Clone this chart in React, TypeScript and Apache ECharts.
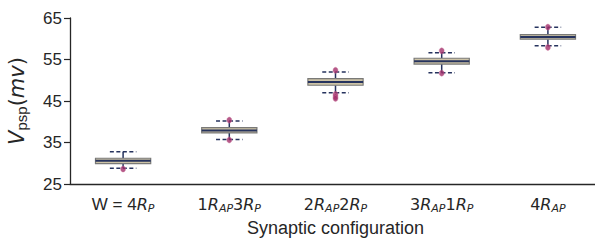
import React, { useEffect, useRef } from "react";
import * as echarts from "echarts";

const categories = [
  "{n|W = 4}{r|R}{s|P}",
  "{d|1}{r|R}{s|AP}{d|3}{r|R}{s|P}",
  "{d|2}{r|R}{s|AP}{d|2}{r|R}{s|P}",
  "{d|3}{r|R}{s|AP}{d|1}{r|R}{s|P}",
  "{d|4}{r|R}{s|AP}",
];
const lowers = [28.8, 35.7, 47.0, 51.8, 58.3];
const q1s = [29.9, 37.3, 48.8, 53.9, 59.9];
const medians = [30.6, 37.9, 49.6, 54.6, 60.4];
const q3s = [31.2, 38.6, 50.4, 55.3, 61.0];
const uppers = [32.8, 40.2, 52.0, 56.6, 62.8];
const pointCats = [0, 1, 1, 2, 2, 2, 2, 3, 3, 4, 4];
const pointVals = [28.6, 40.4, 35.6, 52.4, 46.6, 46.0, 45.6, 57.1, 51.7, 62.8, 57.9];
const yTicks = [25, 35, 45, 55, 65];

const NAVY = "#26335e";
const BOX_FILL = "#cdc3a6";
const BOX_EDGE = "#7a7a78";
const DOT = "#a2306b";
const AXIS = "#262626";

export default function App() {
  const ref = useRef<HTMLDivElement>(null);
  useEffect(() => {
    if (!ref.current) return;
    const chart = echarts.init(ref.current, undefined, { renderer: "svg" });
    const boxData = categories.map((_, i) => [i, lowers[i], q1s[i], medians[i], q3s[i], uppers[i]]);
    const pts = pointCats.map((c, i) => [c, pointVals[i]]);
    const mathRich = {
      n: { fontFamily: "Liberation Sans", fontSize: 17, color: AXIS },
      d: { fontFamily: "DejaVu Sans", fontSize: 16, color: AXIS },
      r: { fontFamily: "DejaVu Sans", fontStyle: "italic", fontSize: 16, color: AXIS },
      s: { fontFamily: "DejaVu Sans", fontStyle: "italic", fontSize: 11, color: AXIS, padding: [8, 0, 0, 0] },
    };
    chart.setOption({
      animation: false,
      grid: { left: 70, right: -6, top: 18, bottom: 56, outerBoundsMode: "none", containLabel: false },
      xAxis: {
        type: "category",
        data: categories,
        boundaryGap: true,
        name: "Synaptic configuration",
        nameLocation: "middle",
        nameGap: 34,
        nameTextStyle: { fontFamily: "Liberation Sans", fontSize: 18, color: AXIS },
        axisLine: { lineStyle: { color: AXIS, width: 1.3 } },
        axisTick: { alignWithLabel: true, length: 6, lineStyle: { color: AXIS, width: 1.2 } },
        axisLabel: { interval: 0, margin: 11, rich: mathRich, formatter: (v: string) => v },
        splitLine: { show: false },
      },
      yAxis: {
        type: "value",
        min: 25,
        max: 65,
        interval: 10,
        name: "{v|V}{s|psp}{t|(}{i|mv}{t|)}",
        nameLocation: "middle",
        nameRotate: 90,
        nameGap: 41,
        nameTextStyle: {
          rich: {
            v: { fontFamily: "DejaVu Sans", fontStyle: "italic", fontSize: 21, color: AXIS },
            s: { fontFamily: "Liberation Sans", fontSize: 15, color: AXIS, padding: [10, 0, 0, 0] },
            t: { fontFamily: "DejaVu Sans", fontSize: 21, color: AXIS },
            i: { fontFamily: "DejaVu Sans", fontStyle: "italic", fontSize: 21, color: AXIS },
          },
        },
        axisLine: { show: true, lineStyle: { color: AXIS, width: 1.3 } },
        axisTick: { show: true, length: 6, lineStyle: { color: AXIS, width: 1.2 } },
        axisLabel: {
          margin: 8,
          fontFamily: "Liberation Sans",
          fontSize: 17,
          color: AXIS,
          customValues: yTicks,
        },
        splitLine: { show: false },
      },
      series: [
        {
          type: "custom",
          data: boxData,
          clip: false,
          renderItem: (params: any, api: any) => {
            const idx = api.value(0);
            const band = api.size([1, 0])[0];
            const bw = band * 0.52;
            const cw = bw * 0.48;
            const pLow = api.coord([idx, api.value(1)]);
            const pQ1 = api.coord([idx, api.value(2)]);
            const pMed = api.coord([idx, api.value(3)]);
            const pQ3 = api.coord([idx, api.value(4)]);
            const pUp = api.coord([idx, api.value(5)]);
            const x = pMed[0];
            const dash = { stroke: NAVY, lineWidth: 1.5, lineDash: [4, 2.5] };
            const solid = { stroke: NAVY, lineWidth: 1.5 };
            return {
              type: "group",
              children: [
                { type: "line", shape: { x1: x, y1: pQ3[1], x2: x, y2: pUp[1] }, style: solid },
                { type: "line", shape: { x1: x, y1: pQ1[1], x2: x, y2: pLow[1] }, style: solid },
                { type: "line", shape: { x1: x - cw / 2, y1: pUp[1], x2: x + cw / 2, y2: pUp[1] }, style: dash },
                { type: "line", shape: { x1: x - cw / 2, y1: pLow[1], x2: x + cw / 2, y2: pLow[1] }, style: dash },
                {
                  type: "rect",
                  shape: { x: x - bw / 2, y: pQ3[1], width: bw, height: pQ1[1] - pQ3[1] },
                  style: { fill: BOX_FILL, stroke: BOX_EDGE, lineWidth: 1.2 },
                },
                { type: "line", shape: { x1: x - bw / 2, y1: pMed[1], x2: x + bw / 2, y2: pMed[1] }, style: { stroke: NAVY, lineWidth: 2 } },
              ],
            };
          },
        },
        {
          type: "scatter",
          data: pts,
          symbol: "circle",
          symbolSize: [5, 6],
          itemStyle: { color: DOT, borderColor: "#d07aa0", borderWidth: 0.5 },
          z: 5,
        },
      ],
    });
    return () => chart.dispose();
  }, []);
  return (
    <div
      ref={ref}
      style={{ position: "absolute", left: 0, top: 0, width: 595, height: 240, background: "#ffffff" }}
    />
  );
}
